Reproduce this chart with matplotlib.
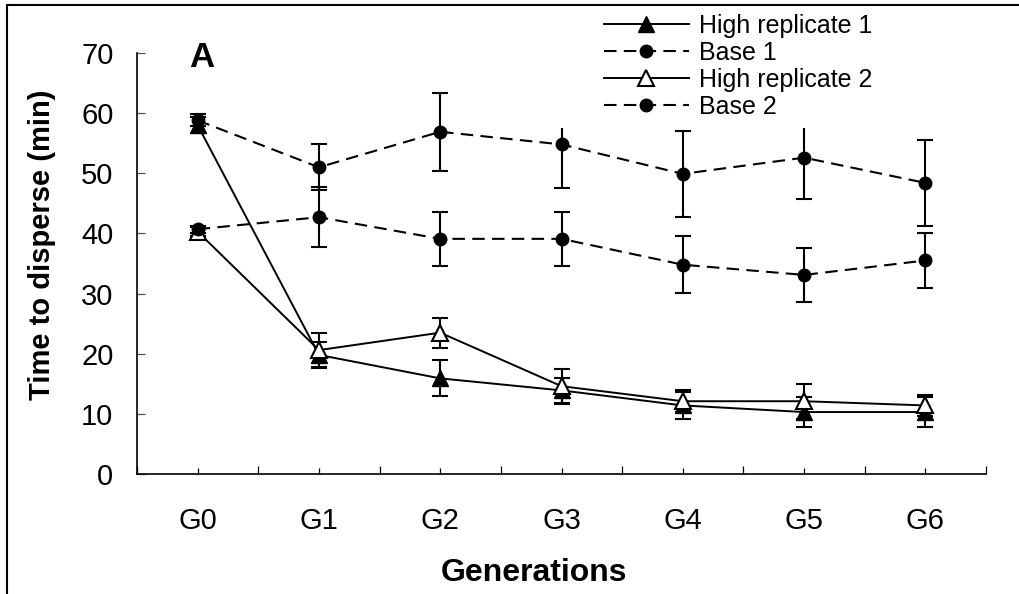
import matplotlib
matplotlib.use("Agg")
from matplotlib import pyplot as plt
from matplotlib.patches import Rectangle
from matplotlib.ticker import MultipleLocator
import numpy

plt.rcParams['font.family'] = ['Liberation Sans', 'DejaVu Sans']

# generations on the x axis
gens = ['G0', 'G1', 'G2', 'G3', 'G4', 'G5', 'G6']

# time to disperse (min), mean and error per generation
high1 = [58.0, 19.8, 15.9, 13.9, 11.4, 10.3, 10.3]
high1_err = [1.3, 2.2, 3.0, 2.1, 2.2, 2.5, 2.5]
base1 = [58.8, 51.0, 56.9, 54.8, 49.9, 52.6, 48.4]
base1_err = [1.0, 3.8, 6.5, 7.3, 7.1, 6.8, 7.2]
high2 = [40.3, 20.6, 23.5, 14.6, 12.1, 12.1, 11.4]
high2_err = [0.7, 2.8, 2.5, 2.9, 1.8, 2.9, 1.8]
base2 = [40.7, 42.7, 39.1, 39.1, 34.8, 33.1, 35.5]
base2_err = [0.6, 5.0, 4.5, 4.5, 4.7, 4.5, 4.5]

W, H = 1019, 594
fig = plt.figure(figsize=(W / 100, H / 100), dpi=100)
ax = fig.add_axes([137 / W, 1 - 474 / H, 849 / W, 421 / H])

x = numpy.arange(len(gens))

#error bars first, lines on top
for vals, errs in [(base1, base1_err), (base2, base2_err), (high1, high1_err), (high2, high2_err)]:
    ax.errorbar(x, vals, yerr=errs, fmt='none', ecolor='black', elinewidth=1.5,
                capsize=5.5, capthick=1.5, zorder=2)

ax.plot(x, high1, color='black', lw=1.4, marker='^', ms=11, mfc='black', mec='black',
        label='High replicate 1', zorder=3)
l1, = ax.plot(x, base1, color='black', lw=1.5, ls='--', marker='o', ms=9,
              label='Base 1', zorder=3)
ax.plot(x, high2, color='black', lw=1.4, marker='^', ms=11, mfc='white', mec='black',
        mew=1.5, label='High replicate 2', zorder=3)
l2, = ax.plot(x, base2, color='black', lw=1.5, ls='--', marker='o', ms=9,
              label='Base 2', zorder=3)
l1.set_dashes((6, 3.5))
l2.set_dashes((6, 3.5))

ax.set_xlim(-0.5, 6.5)
ax.set_ylim(0, 70)
ax.set_xticks(x)
ax.set_xticklabels(gens)
ax.set_xticks(numpy.arange(-0.5, 7.0, 1.0), minor=True)
ax.yaxis.set_major_locator(MultipleLocator(10))
ax.tick_params(axis='x', which='major', direction='in', length=4.5, width=0.9,
               labelsize=21, pad=24)
ax.tick_params(axis='x', which='minor', direction='in', length=5.5, width=0.9)
ax.tick_params(axis='y', direction='in', length=6, width=0.9, labelsize=21, pad=17,
               color='#555555')

for s in ['top', 'right']:
    ax.spines[s].set_visible(False)
for s in ['left', 'bottom']:
    ax.spines[s].set_linewidth(1.2)

ax.text(-0.07, 67.6, 'A', fontsize=25, fontweight='bold')

fig.text(42 / W, 1 - 245 / H, 'Time to disperse (min)', rotation=90, ha='center',
         va='center', fontsize=21, fontweight='bold')
fig.text(534 / W, 1 - 573 / H, 'Generations', ha='center', va='center',
         fontsize=23, fontweight='bold')

# white block behind the legend hides the tops of some bars
ax.add_patch(Rectangle((550 / W, 1 - 128 / H), 460 / W, 128 / H, transform=fig.transFigure,
                       facecolor='white', edgecolor='none', clip_on=False, zorder=4))
leg = ax.legend(loc='upper left', bbox_to_anchor=(595 / W, 1 - 5 / H),
                bbox_transform=fig.transFigure, frameon=False, fontsize=18,
                handlelength=3.4, handletextpad=0.4, labelspacing=0.12,
                borderpad=0.35, borderaxespad=0)
leg.set_zorder(5)

# figure border (top and left edge only visible)
fig.add_artist(Rectangle((6.5 / W, -0.2), 1.2, 1.2 - 5 / H, transform=fig.transFigure,
                         facecolor='none', edgecolor='black', lw=1.5, zorder=10))

plt.savefig('out.png', dpi=100)
